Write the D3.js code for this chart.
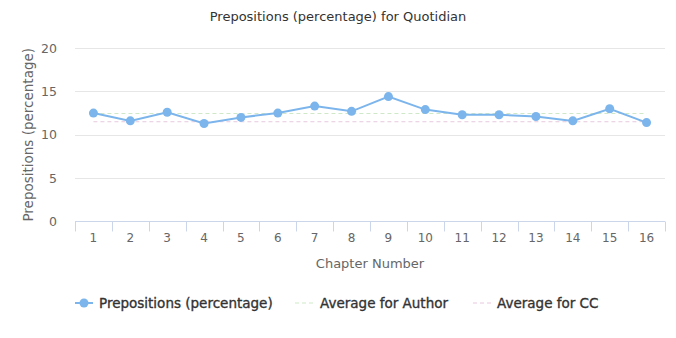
<!DOCTYPE html>
<html>
<head>
<meta charset="utf-8">
<script src="https://cdn.jsdelivr.net/npm/d3@7"></script>
<style>
  body { margin: 0; background: #fff; }
  svg { display: block; font-family: "DejaVu Sans", Verdana, sans-serif; }
</style>
</head>
<body>
<svg id="chart" width="676" height="338"></svg>
<script>
// Chapter numbers and preposition share per chapter
const chapters = ["1","2","3","4","5","6","7","8","9","10","11","12","13","14","15","16"];
const prepositions = [12.5, 11.6, 12.6, 11.3, 12.0, 12.5, 13.3, 12.7, 14.4, 12.9, 12.3, 12.3, 12.1, 11.6, 13.0, 11.4];
const authorAverage = 12.45;
const ccAverage = 11.5;
const yTicks = [0, 5, 10, 15, 20];

const svg = d3.select("#chart");
const margin = { left: 75, right: 11, top: 48 };
const W = 676;
const plotW = W - margin.left - margin.right;
const plotBottom = 221.5;

const x = d3.scaleBand().domain(chapters).range([margin.left, W - margin.right]);
const y = d3.scaleLinear().domain([0, 20]).range([plotBottom, margin.top]);

// Title
svg.append("text")
  .attr("x", W / 2).attr("y", 21)
  .attr("text-anchor", "middle")
  .attr("font-size", 13).attr("fill", "#333")
  .text("Prepositions (percentage) for Quotidian");

// Horizontal grid
svg.append("g").selectAll("line").data(yTicks.filter(d => d > 0)).join("line")
  .attr("x1", margin.left).attr("x2", W - margin.right)
  .attr("y1", d => Math.round(y(d)) + 0.5).attr("y2", d => Math.round(y(d)) + 0.5)
  .attr("stroke", "#e6e6e6").attr("stroke-width", 1);

// Y axis labels
const yAxis = svg.append("g")
  .attr("transform", `translate(${margin.left - 18},0)`)
  .call(d3.axisLeft(y).tickValues(yTicks).tickSize(0).tickPadding(0));
yAxis.select(".domain").remove();
yAxis.selectAll("text").attr("font-size", 12.5).attr("fill", "#666")
  .attr("font-family", "DejaVu Sans, Verdana, sans-serif");

// Y axis title
svg.append("text")
  .attr("transform", `translate(33,${(margin.top + plotBottom) / 2}) rotate(-90)`)
  .attr("text-anchor", "middle")
  .attr("font-size", 13.5).attr("fill", "#666")
  .text("Prepositions (percentage)");

// X axis with boundary ticks
const xAxisG = svg.append("g");
xAxisG.append("line")
  .attr("x1", margin.left).attr("x2", W - margin.right)
  .attr("y1", plotBottom).attr("y2", plotBottom)
  .attr("stroke", "#ccd6eb");
const boundaries = chapters.map(c => x(c)).concat([x(chapters[chapters.length - 1]) + x.bandwidth()]);
xAxisG.selectAll("line.tick").data(boundaries).join("line")
  .attr("class", "tick")
  .attr("x1", d => Math.round(d) + 0.5).attr("x2", d => Math.round(d) + 0.5)
  .attr("y1", plotBottom).attr("y2", plotBottom + 10)
  .attr("stroke", "#ccd6eb");
xAxisG.selectAll("text").data(chapters).join("text")
  .attr("x", d => x(d) + x.bandwidth() / 2)
  .attr("y", 242)
  .attr("text-anchor", "middle")
  .attr("font-size", 12).attr("fill", "#666")
  .text(d => d);

svg.append("text")
  .attr("x", margin.left + plotW / 2).attr("y", 268)
  .attr("text-anchor", "middle")
  .attr("font-size", 13).attr("fill", "#666")
  .text("Chapter Number");

// Average reference lines
const cx = d => x(d) + x.bandwidth() / 2;
const first = chapters[0], last = chapters[chapters.length - 1];
svg.append("line")
  .attr("x1", cx(first)).attr("x2", cx(last))
  .attr("y1", y(authorAverage)).attr("y2", y(authorAverage))
  .attr("stroke", "#cfe8c8").attr("stroke-width", 1).attr("stroke-dasharray", "4,3");
svg.append("line")
  .attr("x1", cx(first)).attr("x2", cx(last))
  .attr("y1", y(ccAverage)).attr("y2", y(ccAverage))
  .attr("stroke", "#e6c8de").attr("stroke-width", 1).attr("stroke-dasharray", "4,3");

// Series line and markers
const color = "#7cb5ec";
const line = d3.line().x((d, i) => cx(chapters[i])).y(d => y(d));
svg.append("path").datum(prepositions)
  .attr("d", line).attr("fill", "none")
  .attr("stroke", color).attr("stroke-width", 2);
svg.append("g").selectAll("circle").data(prepositions).join("circle")
  .attr("cx", (d, i) => cx(chapters[i])).attr("cy", d => y(d))
  .attr("r", 4.5).attr("fill", color);

// Legend
const ly = 303;
const legend = svg.append("g").attr("font-size", 13.5).attr("fill", "#333")
  .attr("stroke", "#333").attr("stroke-width", 0.35);
legend.append("line").attr("x1", 75).attr("x2", 93).attr("y1", ly).attr("y2", ly)
  .attr("stroke", color).attr("stroke-width", 2);
legend.append("circle").attr("cx", 84).attr("cy", ly).attr("r", 4.5).attr("fill", color).attr("stroke", "none");
legend.append("text").attr("x", 99).attr("y", ly + 5).text("Prepositions (percentage)");

legend.append("line").attr("x1", 295).attr("x2", 313).attr("y1", ly).attr("y2", ly)
  .attr("stroke", "#cfe8c8").attr("stroke-width", 1).attr("stroke-dasharray", "4,3");
legend.append("text").attr("x", 320).attr("y", ly + 5).text("Average for Author");

legend.append("line").attr("x1", 473).attr("x2", 491).attr("y1", ly).attr("y2", ly)
  .attr("stroke", "#e6c8de").attr("stroke-width", 1).attr("stroke-dasharray", "4,3");
legend.append("text").attr("x", 497).attr("y", ly + 5).text("Average for CC");
</script>
</body>
</html>
